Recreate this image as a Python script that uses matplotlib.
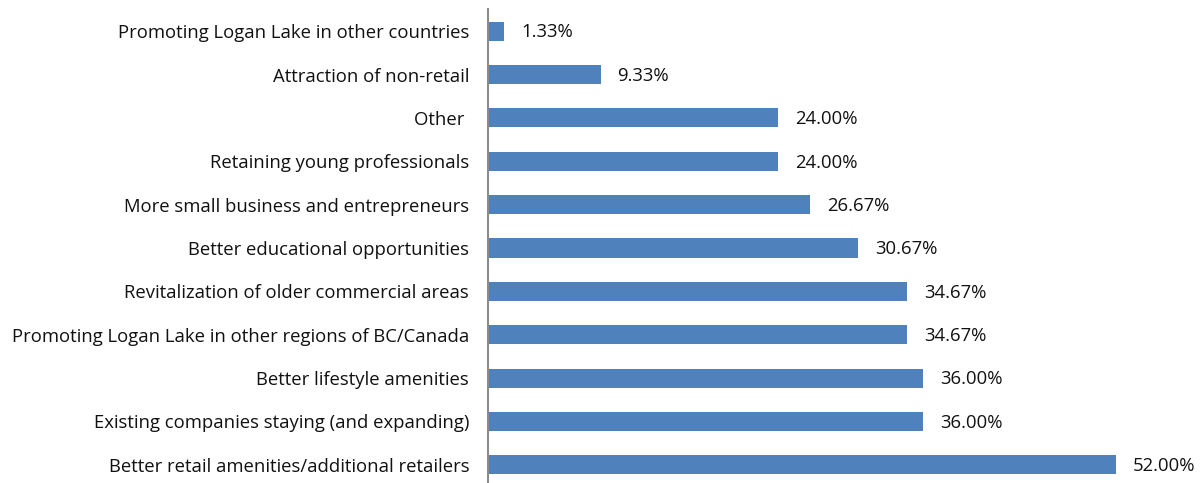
import matplotlib
matplotlib.use('Agg')
import matplotlib.pyplot as plt

# категории снизу вверх
categories = [
    'Better retail amenities/additional retailers',
    'Existing companies staying (and expanding)',
    'Better lifestyle amenities',
    'Promoting Logan Lake in other regions of BC/Canada',
    'Revitalization of older commercial areas',
    'Better educational opportunities',
    'More small business and entrepreneurs',
    'Retaining young professionals',
    'Other ',
    'Attraction of non-retail',
    'Promoting Logan Lake in other countries',
]
values = [52.00, 36.00, 36.00, 34.67, 34.67, 30.67, 26.67, 24.00, 24.00, 9.33, 1.33]

plt.rcParams['font.family'] = ['Open Sans', 'DejaVu Sans']

fig = plt.figure(figsize=(12, 4.83), dpi=100)
ax = fig.add_axes([488 / 1200, -3.5 / 483, 712 / 1200, 477 / 483])

y = range(len(categories))
ax.barh(y, values, height=0.44, color='#4F81BD')
for i, v in enumerate(values):
    ax.text(v + 1.4, i - 0.03, f'{v:.2f}%', va='center', ha='left', fontsize=13.3, color='#111111')

ax.set_yticks(list(y))
ax.set_yticklabels(categories, fontsize=13.3, color='#111111')
ax.tick_params(axis='y', length=0, pad=13.5)
ax.set_xlim(0, 712 / 12.08)
ax.set_ylim(-0.5, len(categories) - 0.5)
ax.set_xticks([])
for s in ['top', 'right', 'bottom']:
    ax.spines[s].set_visible(False)
ax.spines['left'].set_color('#8c8c8c')
ax.spines['left'].set_linewidth(1.5)

fig.savefig('out.png', dpi=100)
